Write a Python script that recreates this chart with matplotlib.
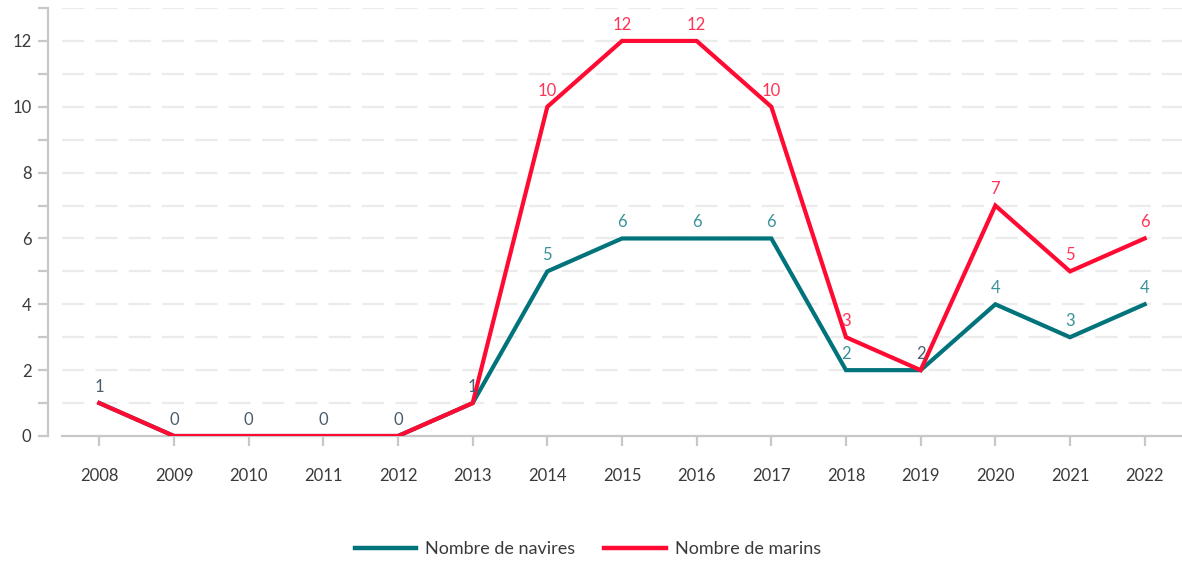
import matplotlib
matplotlib.use("Agg")
import matplotlib.pyplot as plt
from matplotlib.lines import Line2D

plt.rcParams['font.family'] = ['Lato', 'DejaVu Sans']

years = list(range(2008, 2023))
navires = [1, 0, 0, 0, 0, 1, 5, 6, 6, 6, 2, 2, 4, 3, 4]
marins = [1, 0, 0, 0, 0, 1, 10, 12, 12, 10, 3, 2, 7, 5, 6]

teal = "#00737b"
red = "#ff0a33"

W, H = 1182, 562
fig = plt.figure(figsize=(W / 100, H / 100), dpi=100)
ax = fig.add_axes([62 / W, 1 - 436 / H, (W - 62) / W, 428 / H])

ax.set_xlim(2007.5, 2022.5)
ax.set_ylim(0, 13)

# dashed horizontal grid every unit
for v in range(1, 14):
    ax.axhline(v, color="#ebebeb", lw=1.6, dashes=(10, 5), zorder=0)

ax.plot(years, navires, color=teal, lw=3, zorder=3, solid_joinstyle="miter")
ax.plot(years, marins, color=red, lw=3, zorder=4, solid_joinstyle="miter")

for x, a, b in zip(years, navires, marins):
    if a == b:
        ax.text(x, a + 0.25, str(a), color="#4a5d6e", ha="center", va="bottom",
                fontsize=12, zorder=5)
        continue
    ax.text(x, a + 0.25, str(a), color="#3a9199", ha="center", va="bottom",
            fontsize=12, zorder=5)
    ax.text(x, b + 0.25, str(b), color="#ff3355", ha="center", va="bottom",
            fontsize=12, zorder=5)

for s in ["top", "right"]:
    ax.spines[s].set_visible(False)
ax.spines["left"].set_position(("outward", 10))
ax.spines["left"].set_color("#c8c8c8")
ax.spines["left"].set_linewidth(1.6)
ax.spines["bottom"].set_color("#c8c8c8")
ax.spines["bottom"].set_linewidth(1.6)
ax.spines["left"].set_bounds(0, 13)

ax.set_xticks(years)
ax.set_xticklabels([str(y) for y in years])
ax.set_yticks(range(0, 14))
ax.set_yticklabels([str(v) if v % 2 == 0 and v <= 12 else "" for v in range(0, 14)])
ax.tick_params(axis="both", colors="#c8c8c8", labelcolor="#3a3a3a",
               labelsize=12, width=1.6)
ax.tick_params(axis="x", length=7, pad=16)
ax.tick_params(axis="y", length=7, pad=5)

handles = [Line2D([], [], color=teal, lw=3.2), Line2D([], [], color=red, lw=3.2)]
fig.legend(handles, ["Nombre de navires", "Nombre de marins"], loc="center",
           bbox_to_anchor=(588 / W, 1 - 549 / H), ncol=2, frameon=False,
           fontsize=13, handlelength=3.4, handletextpad=0.5, columnspacing=1.6,
           labelcolor="#3a3a3a")

fig.savefig("out.png", dpi=100)
